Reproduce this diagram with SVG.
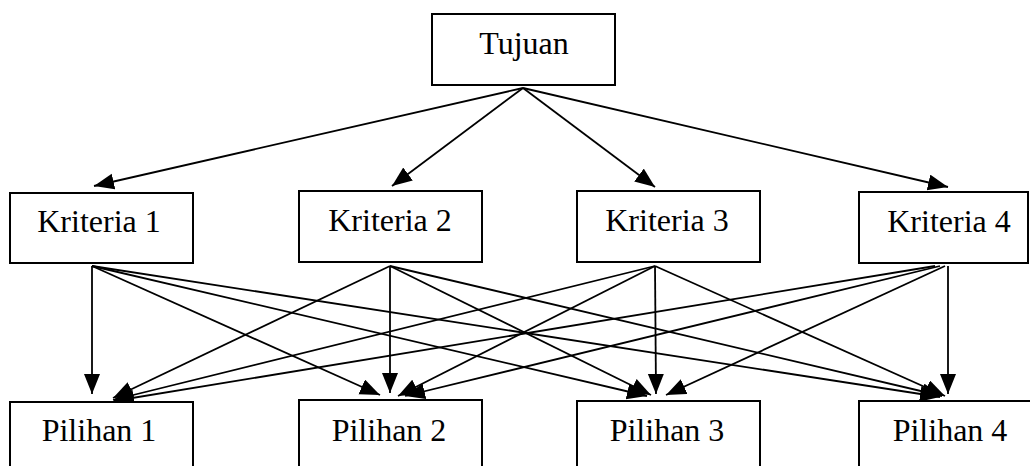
<svg xmlns="http://www.w3.org/2000/svg" width="1030" height="466" viewBox="0 0 1030 466">
<style>
.box{fill:#fff;stroke:#000;stroke-width:2}
.lbl{font-family:"Liberation Serif","Times New Roman",serif;font-size:32px;fill:#000;text-anchor:middle}
.c{stroke:#000;stroke-width:1.8;fill:none;marker-end:url(#ah)}
</style>
<defs>
<marker id="ah" markerUnits="userSpaceOnUse" markerWidth="22" markerHeight="18" refX="20" refY="8" orient="auto">
<path d="M0,0 L20,8 L0,16 z" fill="#000"/>
</marker>
</defs>
<rect width="1030" height="466" fill="#fff"/>
<g id="connectors">
<line class="c" x1="523" y1="88" x2="94" y2="186"/>
<line class="c" x1="523" y1="88" x2="392" y2="186"/>
<line class="c" x1="523" y1="88" x2="655" y2="187"/>
<line class="c" x1="523" y1="88" x2="948" y2="187"/>
<line class="c" x1="92" y1="266" x2="92" y2="394"/>
<line class="c" x1="92" y1="266" x2="380" y2="395"/>
<line class="c" x1="92" y1="266" x2="647" y2="396"/>
<line class="c" x1="92" y1="266" x2="940" y2="397"/>
<line class="c" x1="390" y1="266" x2="113" y2="398"/>
<line class="c" x1="390" y1="266" x2="390" y2="393"/>
<line class="c" x1="390" y1="266" x2="651" y2="395"/>
<line class="c" x1="390" y1="266" x2="942" y2="396"/>
<line class="c" x1="655" y1="266" x2="113" y2="400"/>
<line class="c" x1="655" y1="266" x2="398" y2="396"/>
<line class="c" x1="655" y1="266" x2="656" y2="394"/>
<line class="c" x1="655" y1="266" x2="945" y2="396"/>
<line class="c" x1="935" y1="266" x2="114" y2="401"/>
<line class="c" x1="940" y1="266" x2="405" y2="396"/>
<line class="c" x1="945" y1="266" x2="666" y2="395"/>
<line class="c" x1="948" y1="266" x2="948" y2="394"/>
</g>
<g id="tujuan"><rect class="box" x="432" y="14" width="183" height="71"/><text class="lbl" x="524" y="54">Tujuan</text></g>
<g id="kriteria1"><rect class="box" x="10" y="193" width="183" height="70"/><text class="lbl" x="99" y="232">Kriteria 1</text></g>
<g id="kriteria2"><rect class="box" x="299" y="191" width="183" height="71"/><text class="lbl" x="390" y="231">Kriteria 2</text></g>
<g id="kriteria3"><rect class="box" x="577" y="191" width="183" height="71"/><text class="lbl" x="667" y="231">Kriteria 3</text></g>
<g id="kriteria4"><rect class="box" x="859" y="192" width="169" height="71"/><text class="lbl" x="949" y="232">Kriteria 4</text></g>
<g id="pilihan1"><rect class="box" x="10" y="402" width="183" height="72"/><text class="lbl" x="99" y="441">Pilihan 1</text></g>
<g id="pilihan2"><rect class="box" x="299" y="400" width="183" height="72"/><text class="lbl" x="389" y="441">Pilihan 2</text></g>
<g id="pilihan3"><rect class="box" x="577" y="401" width="183" height="72"/><text class="lbl" x="667" y="441">Pilihan 3</text></g>
<g id="pilihan4"><rect class="box" x="859" y="401" width="183" height="72"/><text class="lbl" x="950" y="441">Pilihan 4</text></g>
</svg>
